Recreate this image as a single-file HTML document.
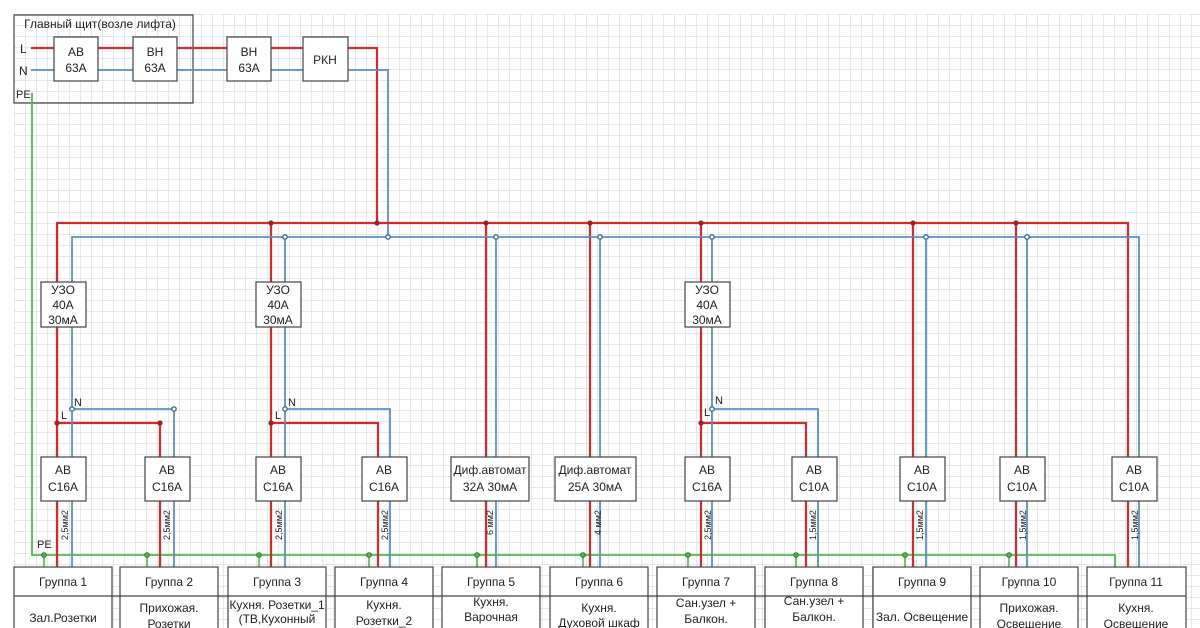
<!DOCTYPE html>
<html><head><meta charset="utf-8"><style>
html,body{margin:0;padding:0;background:#fff;width:1200px;height:628px;overflow:hidden}
svg text{font-family:"Liberation Sans","DejaVu Sans",sans-serif;fill:#222}
</style></head><body>
<svg width="1200" height="628" viewBox="0 0 1200 628" xmlns="http://www.w3.org/2000/svg">
<defs>
<pattern id="g" x="14" y="14" width="11" height="11" patternUnits="userSpaceOnUse">
<path d="M0 0H11M0 0V11" stroke="#d2d2d2" stroke-width="1" fill="none"/>
</pattern>
</defs>
<rect x="14" y="14" width="1186" height="614" fill="url(#g)"/>

<rect x="14" y="15" width="179" height="88" fill="none" stroke="#444" stroke-width="1.2"/>
<text x="100" y="28" font-size="12" text-anchor="middle">Главный щит(возле лифта)</text>
<text x="20" y="53" font-size="12">L</text>
<text x="19" y="75" font-size="12">N</text>
<text x="16" y="98" font-size="11">PE</text>

<g fill="none" stroke-width="2.2">
<path d="M31 48H377V223" stroke="#d62a2a"/>
<path d="M31 70H388V237" stroke="#5a8fd0" stroke-width="1.8"/>
</g>
<g fill="#fff" stroke="#444" stroke-width="1.2">
<rect x="54" y="37" width="44" height="44"/>
<rect x="133" y="37" width="44" height="44"/>
<rect x="227" y="37" width="44" height="44"/>
<rect x="303" y="37" width="45" height="44"/>
</g>
<g font-size="12" text-anchor="middle">
<text x="76" y="56">АВ</text><text x="76" y="72">63А</text>
<text x="155" y="56">ВН</text><text x="155" y="72">63А</text>
<text x="249" y="56">ВН</text><text x="249" y="72">63А</text>
<text x="325" y="64">РКН</text>
</g>

<path d="M32 93V555H1115V567" fill="none" stroke="#4cbb4c" stroke-width="1.8"/>
<g stroke="#4cbb4c" stroke-width="1.6">
<path d="M44 555V567M147 555V567M259 555V567M369 555V567M477 555V567M583 555V567M688 555V567M796 555V567M905 555V567M1009 555V567"/>
</g>
<g fill="#4cbb4c" stroke="#2a7a2a" stroke-width="1">
<circle cx="44" cy="555" r="2.3"/><circle cx="147" cy="555" r="2.3"/><circle cx="259" cy="555" r="2.3"/><circle cx="369" cy="555" r="2.3"/><circle cx="477" cy="555" r="2.3"/><circle cx="583" cy="555" r="2.3"/><circle cx="688" cy="555" r="2.3"/><circle cx="796" cy="555" r="2.3"/><circle cx="905" cy="555" r="2.3"/><circle cx="1009" cy="555" r="2.3"/>
</g>
<text x="37" y="548" font-size="11">PE</text>

<g fill="none" stroke="#d62a2a" stroke-width="2.2">
<path d="M57 567V223H1128V567"/>
<path d="M271 223V567M486 223V567M590 223V567M701 223V567M913 223V567M1016 223V567"/>
<path d="M57 423H160V567M271 423H378V567M701 423H806V567"/>
</g>
<g fill="none" stroke="#5a8fd0" stroke-width="1.8">
<path d="M72 567V237H1139V567"/>
<path d="M285 237V567M496 237V567M600 237V567M712 237V567M926 237V567M1027 237V567"/>
<path d="M72 409H174V567M285 409H390V567M712 409H818V567"/>
</g>
<g fill="#a02020">
<circle cx="271" cy="223" r="2.6"/><circle cx="377" cy="223" r="2.6"/><circle cx="486" cy="223" r="2.6"/><circle cx="590" cy="223" r="2.6"/><circle cx="701" cy="223" r="2.6"/><circle cx="913" cy="223" r="2.6"/><circle cx="1016" cy="223" r="2.6"/>
<circle cx="57" cy="423" r="2.6"/><circle cx="160" cy="423" r="2.6"/><circle cx="271" cy="423" r="2.6"/><circle cx="701" cy="423" r="2.6"/>
</g>
<g fill="#fff" stroke="#2f6a9a" stroke-width="1.3">
<circle cx="285" cy="237" r="2.2"/><circle cx="388" cy="237" r="2.2"/><circle cx="496" cy="237" r="2.2"/><circle cx="600" cy="237" r="2.2"/><circle cx="712" cy="237" r="2.2"/><circle cx="926" cy="237" r="2.2"/><circle cx="1027" cy="237" r="2.2"/>
<circle cx="72" cy="409" r="2.2"/><circle cx="174" cy="409" r="2.2"/><circle cx="285" cy="409" r="2.2"/><circle cx="712" cy="409" r="2.2"/>
</g>
<g font-size="11">
<text x="74" y="406">N</text><text x="61" y="419">L</text>
<text x="288" y="406">N</text><text x="275" y="419">L</text>
<text x="715" y="404">N</text><text x="704" y="416">L</text>
</g>

<g fill="#fff" stroke="#444" stroke-width="1.2">
<rect x="41" y="282" width="45" height="45"/>
<rect x="256" y="282" width="45" height="45"/>
<rect x="685" y="282" width="45" height="45"/>
</g>
<g font-size="12" text-anchor="middle">
<text x="63" y="294">УЗО</text><text x="63" y="309">40А</text><text x="63" y="324">30мА</text>
<text x="278" y="294">УЗО</text><text x="278" y="309">40А</text><text x="278" y="324">30мА</text>
<text x="707" y="294">УЗО</text><text x="707" y="309">40А</text><text x="707" y="324">30мА</text>
</g>

<g fill="#fff" stroke="#444" stroke-width="1.2">
<rect x="41" y="457" width="45" height="44"/>
<rect x="145" y="457" width="45" height="44"/>
<rect x="256" y="457" width="45" height="44"/>
<rect x="362" y="457" width="45" height="44"/>
<rect x="451" y="457" width="78" height="44"/>
<rect x="555" y="457" width="81" height="44"/>
<rect x="685" y="457" width="45" height="44"/>
<rect x="792" y="457" width="45" height="44"/>
<rect x="900" y="457" width="45" height="44"/>
<rect x="1000" y="457" width="45" height="44"/>
<rect x="1112" y="457" width="45" height="44"/>
</g>
<g font-size="12" text-anchor="middle">
<text x="63" y="474">АВ</text><text x="63" y="491">С16А</text>
<text x="167" y="474">АВ</text><text x="167" y="491">С16А</text>
<text x="278" y="474">АВ</text><text x="278" y="491">С16А</text>
<text x="384" y="474">АВ</text><text x="384" y="491">С16А</text>
<text x="490" y="474">Диф.автомат</text><text x="490" y="491">32А 30мА</text>
<text x="595" y="474">Диф.автомат</text><text x="595" y="491">25А 30мА</text>
<text x="707" y="474">АВ</text><text x="707" y="491">С16А</text>
<text x="814" y="474">АВ</text><text x="814" y="491">С10А</text>
<text x="922" y="474">АВ</text><text x="922" y="491">С10А</text>
<text x="1022" y="474">АВ</text><text x="1022" y="491">С10А</text>
<text x="1134" y="474">АВ</text><text x="1134" y="491">С10А</text>
</g>

<g font-size="9">
<text transform="translate(68,540) rotate(-90)">2,5мм2</text>
<text transform="translate(170,540) rotate(-90)">2,5мм2</text>
<text transform="translate(282,540) rotate(-90)">2,5мм2</text>
<text transform="translate(388,540) rotate(-90)">2,5мм2</text>
<text transform="translate(493,535) rotate(-90)">6 мм2</text>
<text transform="translate(601,535) rotate(-90)">4 мм2</text>
<text transform="translate(711,540) rotate(-90)">2,5мм2</text>
<text transform="translate(816,540) rotate(-90)">1,5мм2</text>
<text transform="translate(923,540) rotate(-90)">1,5мм2</text>
<text transform="translate(1026,540) rotate(-90)">1,5мм2</text>
<text transform="translate(1138,540) rotate(-90)">1,5мм2</text>
</g>

<g fill="#fff" stroke="#444" stroke-width="1.2">
<rect x="14" y="567" width="98" height="70"/>
<rect x="120" y="567" width="98" height="70"/>
<rect x="228" y="567" width="98" height="70"/>
<rect x="335" y="567" width="98" height="70"/>
<rect x="442" y="567" width="98" height="70"/>
<rect x="550" y="567" width="98" height="70"/>
<rect x="657" y="567" width="98" height="70"/>
<rect x="765" y="567" width="98" height="70"/>
<rect x="873" y="567" width="98" height="70"/>
<rect x="980" y="567" width="98" height="70"/>
<rect x="1087" y="567" width="99" height="70"/>
</g>
<path d="M14 596H1186" stroke="#444" stroke-width="1.2"/>
<g font-size="12" text-anchor="middle">
<text x="63" y="586">Группа 1</text>
<text x="169" y="586">Группа 2</text>
<text x="277" y="586">Группа 3</text>
<text x="384" y="586">Группа 4</text>
<text x="491" y="586">Группа 5</text>
<text x="599" y="586">Группа 6</text>
<text x="706" y="586">Группа 7</text>
<text x="814" y="586">Группа 8</text>
<text x="922" y="586">Группа 9</text>
<text x="1029" y="586">Группа 10</text>
<text x="1136" y="586">Группа 11</text>

<text x="63" y="622">Зал.Розетки</text>
<text x="169" y="612">Прихожая.</text><text x="169" y="628">Розетки</text>
<text x="277" y="609">Кухня. Розетки_1</text><text x="277" y="623">(ТВ,Кухонный</text>
<text x="384" y="609">Кухня.</text><text x="384" y="625">Розетки_2</text>
<text x="491" y="606">Кухня.</text><text x="491" y="621">Варочная</text>
<text x="599" y="612">Кухня.</text><text x="599" y="627">Духовой шкаф</text>
<text x="706" y="607">Сан.узел +</text><text x="706" y="623">Балкон.</text>
<text x="814" y="605">Сан.узел +</text><text x="814" y="621">Балкон.</text>
<text x="922" y="621">Зал. Освещение</text>
<text x="1029" y="612">Прихожая.</text><text x="1029" y="628">Освещение</text>
<text x="1136" y="612">Кухня.</text><text x="1136" y="628">Освещение</text>
</g>
</svg>
</body></html>
